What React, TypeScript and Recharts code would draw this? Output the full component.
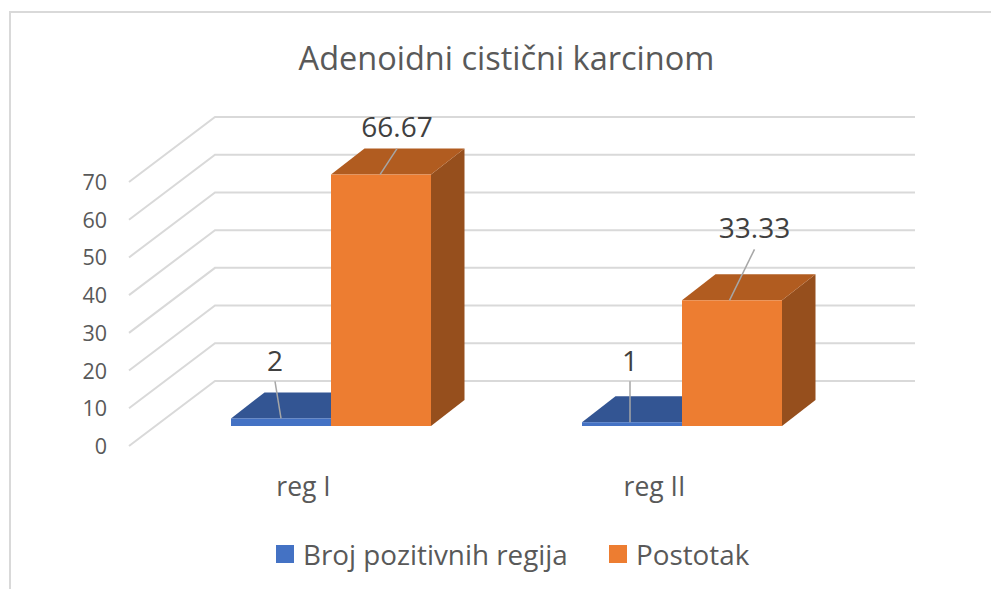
import React from "react";
import {
  BarChart,
  Bar,
  XAxis,
  YAxis,
  CartesianGrid,
  Legend,
  LabelList,
} from "recharts";

const title = "Adenoidni cistični karcinom";
const categories = ["reg I", "reg II"];
const brojValues = [2, 1];
const postotakValues = [66.67, 33.33];
const yTicks = [0, 10, 20, 30, 40, 50, 60, 70];

const data = categories.map((name, i) => ({
  name,
  broj: brojValues[i],
  postotak: postotakValues[i],
}));

const FONT = "'Open Sans', sans-serif";
const DEPTH_X = 33.5;
const DEPTH_Y = 26;

// label + leader line placement, relative to the top centre of the bar
const brojLeaders = [
  { tx: -6, ty: -58, lx: -6, ly: -37, ex: 0, ey: 0 },
  { tx: -2, ty: -62, lx: -2, ly: -41, ex: -2, ey: 0 },
];
const postotakLeaders = [
  { tx: 16, ty: -49, lx: 16, ly: -26, ex: -1, ey: 0 },
  { tx: 22.5, ty: -73, lx: 22.5, ly: -51, ex: -2.5, ey: 0 },
];

function Box3D(props: any) {
  const { x, y, width, height, front, top, side } = props;
  const r = x + width;
  const b = y + height;
  return (
    <g>
      <polygon
        points={`${r},${y} ${r + DEPTH_X},${y - DEPTH_Y} ${r + DEPTH_X},${b - DEPTH_Y} ${r},${b}`}
        fill={side}
      />
      <polygon
        points={`${x},${y} ${x + DEPTH_X},${y - DEPTH_Y} ${r + DEPTH_X},${y - DEPTH_Y} ${r},${y}`}
        fill={top}
      />
      <rect x={x} y={y} width={width} height={height} fill={front} />
    </g>
  );
}

function leaderLabel(leaders: typeof brojLeaders) {
  return (props: any) => {
    const { x, y, width, value, index } = props;
    const l = leaders[index];
    const cx = x + width / 2;
    return (
      <g>
        <line
          x1={cx + l.lx}
          y1={y + l.ly}
          x2={cx + l.ex}
          y2={y + l.ey}
          stroke="#a6a6a6"
          strokeWidth={1.5}
        />
        <text
          x={cx + l.tx}
          y={y + l.ty}
          textAnchor="middle"
          dominantBaseline="central"
          fontFamily={FONT}
          fontSize={28}
          fill="#404040"
        >
          {value}
        </text>
      </g>
    );
  };
}

function GridLine(props: any) {
  const { y1, key } = props;
  // floor is at 426, back wall sits 45px above it, axis edge 20px below it
  const backY = y1 - 45;
  return (
    <polyline
      key={key}
      points={`129,${y1 + 20} 215,${backY} 915,${backY}`}
      fill="none"
      stroke="#d9d9d9"
      strokeWidth={2}
    />
  );
}

function YTick(props: any) {
  const { y, payload } = props;
  return (
    <text
      x={107}
      y={y + 19.5}
      textAnchor="end"
      dominantBaseline="central"
      fontFamily={FONT}
      fontSize={21.5}
      fill="#595959"
    >
      {payload.value}
    </text>
  );
}

function XTick(props: any) {
  const { x, payload } = props;
  return (
    <text
      x={x - 27}
      y={496}
      textAnchor="middle"
      fontFamily={FONT}
      fontSize={26.5}
      fill="#595959"
    >
      {payload.value}
    </text>
  );
}

function LegendContent(props: any) {
  return (
    <div style={{ position: "relative", height: 40, fontFamily: FONT, fontSize: 27.8, color: "#595959" }}>
      {(props.payload || []).map((item: any, i: number) => (
        <div
          key={item.value}
          style={{
            position: "absolute",
            left: i === 0 ? 0 : 333,
            top: 0,
            display: "flex",
            alignItems: "center",
            height: 36,
            whiteSpace: "nowrap",
          }}
        >
          <span style={{ width: 18, height: 18, background: item.color, marginRight: 9 }} />
          {item.value}
        </div>
      ))}
    </div>
  );
}

export default function App() {
  return (
    <div style={{ position: "absolute", left: 0, top: 0, width: 991, height: 589, background: "#fff" }}>
      <div
        style={{
          position: "absolute",
          left: 9,
          top: 11,
          right: 0,
          bottom: 0,
          borderTop: "2px solid #d9d9d9",
          borderLeft: "2px solid #d9d9d9",
        }}
      />
      <div style={{ position: "absolute", left: 0, top: 0 }}>
        <BarChart
          width={991}
          height={589}
          data={data}
          margin={{ top: 162, right: 134, bottom: 0, left: 0 }}
          barSize={100}
          barGap={0}
        >
          <text
            x={506.5}
            y={69.5}
            textAnchor="middle"
            fontFamily={FONT}
            fontSize={32.5}
            fill="#595959"
          >
            {title}
          </text>
          <CartesianGrid horizontal={GridLine} vertical={false} syncWithTicks />
          <XAxis dataKey="name" height={163} axisLine={false} tickLine={false} tick={XTick} />
          <YAxis
            width={155}
            domain={[0, 70]}
            ticks={yTicks}
            interval={0}
            axisLine={false}
            tickLine={false}
            tick={YTick}
          />
          <Legend
            verticalAlign="middle"
            align="center"
            content={LegendContent}
            wrapperStyle={{ left: 276, top: 536, width: 500 }}
          />
          <Bar
            dataKey="broj"
            name="Broj pozitivnih regija"
            fill="#4472c4"
            isAnimationActive={false}
            shape={(p: any) => <Box3D {...p} front="#4472c4" top="#335593" side="#28437a" />}
          >
            <LabelList dataKey="broj" content={leaderLabel(brojLeaders)} />
          </Bar>
          <Bar
            dataKey="postotak"
            name="Postotak"
            fill="#ed7d31"
            isAnimationActive={false}
            shape={(p: any) => <Box3D {...p} front="#ed7d31" top="#b15c20" side="#964f1d" />}
          >
            <LabelList dataKey="postotak" content={leaderLabel(postotakLeaders)} />
          </Bar>
        </BarChart>
      </div>
    </div>
  );
}
